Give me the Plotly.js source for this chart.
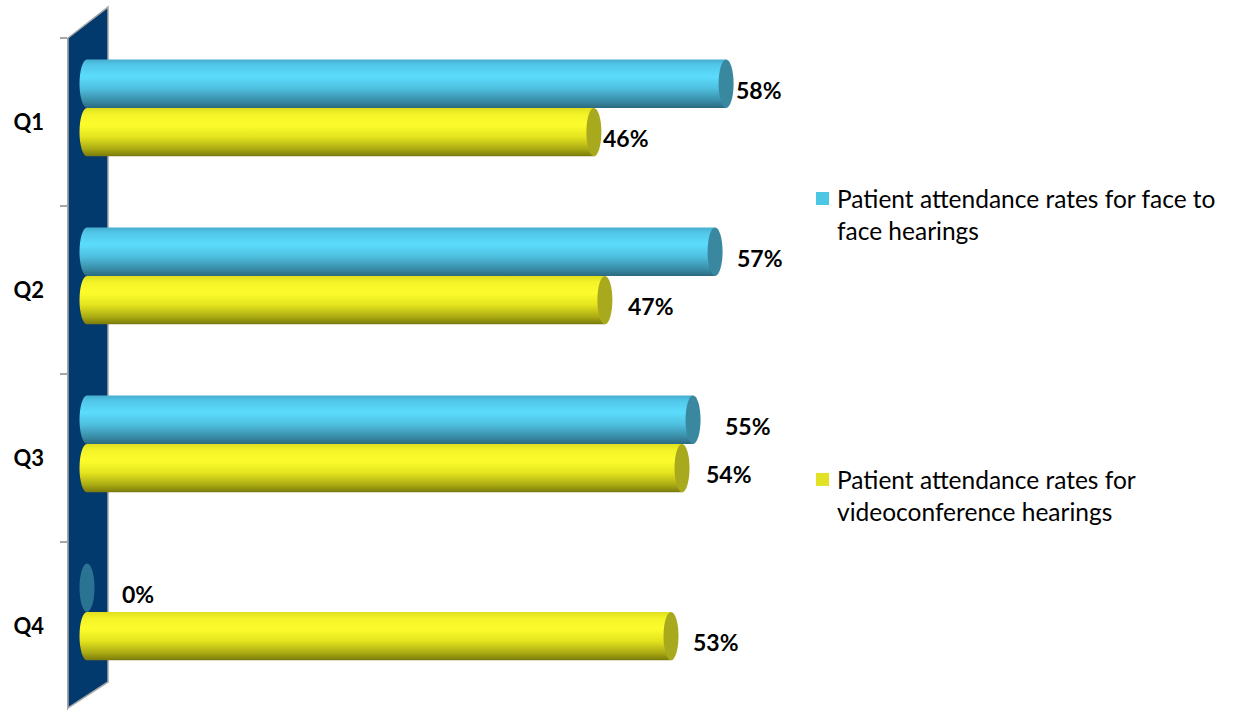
<!DOCTYPE html>
<html>
<head>
<meta charset="utf-8">
<script src="https://cdn.plot.ly/plotly-3.0.1.min.js"></script>
<style>
  html, body { margin: 0; padding: 0; background: #ffffff; }
  #chart { width: 1236px; height: 711px; }
</style>
</head>
<body>
<div id="chart"></div>
<script>
// ---- data ----
const categories = ['Q1', 'Q2', 'Q3', 'Q4'];
const faceToFace = [58, 57, 55, 0];
const videoConf = [46, 47, 54, 53];
const seriesNames = [
  'Patient attendance rates for face to<br>face hearings',
  'Patient attendance rates for<br>videoconference hearings'
];

// ---- label nudges (px, style only) ----
const faceLabelNudge = [0, 12, 22, 26];
const videoLabelNudge = [0, 14, 14, 12];

// ---- style ----
const FONT = 'Lato, "Open Sans", sans-serif';
const barWidth = 0.288;
const faceOffset = -0.372;
const videoOffset = -0.084;
const capHalf = 0.68;

const traces = [
  {
    type: 'bar', orientation: 'h', name: seriesNames[0],
    y: categories, x: faceToFace,
    width: barWidth, offset: faceOffset,
    marker: { color: '#4bc6e3', line: { width: 0 } },
    hoverinfo: 'x+y', legend: 'legend', cliponaxis: false
  },
  {
    type: 'bar', orientation: 'h', name: seriesNames[1],
    y: categories, x: videoConf,
    width: barWidth, offset: videoOffset,
    marker: { color: '#e1e224', line: { width: 0 } },
    hoverinfo: 'x+y', legend: 'legend2', cliponaxis: false
  }
];

const shapes = [];
// back wall
shapes.push({
  type: 'path', xref: 'paper', yref: 'paper', layer: 'below',
  path: 'M 0 0.003 L 0 1 L 0.0542 1.046 L 0.0542 0.0417 Z',
  fillcolor: '#023a6e', line: { color: '#a6a6a6', width: 1.5 }
});

const series = [
  { vals: faceToFace, off: faceOffset, cap: '#3a87a0', grad: 'gBlue', nudge: faceLabelNudge },
  { vals: videoConf, off: videoOffset, cap: '#a9a91e', grad: 'gYellow', nudge: videoLabelNudge }
];

const leftCapIdx = [];
// left caps (below bars)
series.forEach(s => {
  s.vals.forEach((v, i) => {
    if (v === 0) return;
    leftCapIdx.push({ idx: shapes.length, grad: s.grad });
    shapes.push({
      type: 'circle', xref: 'x', yref: 'y', layer: 'below',
      x0: -capHalf, x1: capHalf, y0: i + s.off, y1: i + s.off + barWidth,
      fillcolor: s.cap, line: { width: 0 }
    });
  });
});
// right caps (above bars)
series.forEach(s => {
  s.vals.forEach((v, i) => {
    shapes.push({
      type: 'circle', xref: 'x', yref: 'y', layer: 'above',
      x0: v - capHalf, x1: v + capHalf, y0: i + s.off, y1: i + s.off + barWidth,
      fillcolor: s.cap, opacity: v === 0 ? 0.75 : 1, line: { width: 0 }
    });
  });
});

const annotations = [];
series.forEach(s => {
  s.vals.forEach((v, i) => {
    annotations.push({
      xref: 'x', yref: 'y', x: v + capHalf, y: i + s.off + barWidth / 2,
      text: v + '%', showarrow: false, xanchor: 'left', yanchor: 'middle',
      xshift: s.nudge[i], yshift: -6,
      font: { family: FONT, size: 23, color: '#000000', weight: 'bold' }
    });
  });
});

const layout = {
  width: 1236, height: 711,
  margin: { l: 68, r: 430, t: 38, b: 1 },
  paper_bgcolor: '#ffffff', plot_bgcolor: 'rgba(0,0,0,0)',
  barmode: 'overlay',
  showlegend: true,
  xaxis: {
    range: [-1.724, 65.25], showgrid: false, zeroline: false,
    showticklabels: false, showline: false, ticks: '', fixedrange: true
  },
  yaxis: {
    type: 'category', autorange: false, range: [3.5, -0.5],
    showgrid: false, zeroline: false, showline: true, linecolor: '#a6a6a6', linewidth: 1.5,
    ticks: 'outside', ticklen: 7, tickcolor: '#a6a6a6', tickwidth: 1.5,
    tickson: 'boundaries', ticklabelstandoff: 18,
    tickfont: { family: FONT, size: 22, color: '#000000', weight: 'bold' }
  },
  legend: {
    x: 0.9878, y: 0.7945, xanchor: 'left', yanchor: 'top',
    font: { family: FONT, size: 24.5, color: '#000000' },
    bgcolor: 'rgba(0,0,0,0)', borderwidth: 0, valign: 'top'
  },
  legend2: {
    x: 0.9878, y: 0.3765, xanchor: 'left', yanchor: 'top',
    font: { family: FONT, size: 24.5, color: '#000000' },
    bgcolor: 'rgba(0,0,0,0)', borderwidth: 0, valign: 'top'
  },
  shapes: shapes,
  annotations: annotations
};

function addGradients() {
  const svg = document.querySelector('#chart .main-svg');
  let defs = svg.querySelector('defs');
  const ns = 'http://www.w3.org/2000/svg';
  const mk = (id, stops) => {
    const g = document.createElementNS(ns, 'linearGradient');
    g.setAttribute('id', id);
    g.setAttribute('x1', '0'); g.setAttribute('y1', '0');
    g.setAttribute('x2', '0'); g.setAttribute('y2', '1');
    stops.forEach(([o, c]) => {
      const st = document.createElementNS(ns, 'stop');
      st.setAttribute('offset', o);
      st.setAttribute('stop-color', c);
      g.appendChild(st);
    });
    defs.appendChild(g);
  };
  mk('gBlue', [[0, '#46aed0'], [0.12, '#52c8ea'], [0.35, '#5cdcfc'], [0.6, '#4fbfdf'], [0.85, '#3a8ea8'], [1, '#2c6a80']]);
  mk('gYellow', [[0, '#dede1e'], [0.12, '#f2f228'], [0.35, '#fcfc2c'], [0.6, '#e4e41f'], [0.85, '#aaaa14'], [1, '#7a7a0c']]);

  const barTraces = document.querySelectorAll('#chart .barlayer .trace');
  const ids = ['gBlue', 'gYellow'];
  barTraces.forEach((t, k) => {
    t.querySelectorAll('path').forEach(p => { p.style.fill = 'url(#' + ids[k] + ')'; });
  });
  leftCapIdx.forEach(o => {
    document.querySelectorAll('#chart .shapelayer path[data-index="' + o.idx + '"]').forEach(p => {
      p.style.fill = 'url(#' + o.grad + ')';
    });
  });
  // enlarge legend squares slightly and move them toward the text
  document.querySelectorAll('#chart .legendpoints path').forEach(p => {
    p.setAttribute('d', 'M6.5,6.5H-6.5V-6.5H6.5Z');
    p.setAttribute('transform', 'translate(25.5,0)');
    p.style.strokeWidth = '0px';
  });
}

Plotly.newPlot('chart', traces, layout, { displayModeBar: false, staticPlot: true }).then(addGradients);
</script>
</body>
</html>
